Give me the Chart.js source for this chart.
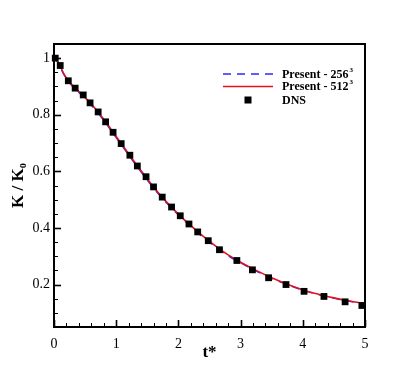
<!DOCTYPE html>
<html>
<head>
<meta charset="utf-8">
<script src="https://cdn.jsdelivr.net/npm/chart.js@4.4.1/dist/chart.umd.min.js"></script>
<style>
  html, body { margin: 0; padding: 0; background: #fff; }
</style>
</head>
<body>
<canvas id="decay" width="415" height="369"></canvas>
<script>
// DNS reference points
var dnsT = [0.02, 0.10, 0.23, 0.34, 0.47, 0.58, 0.71, 0.83, 0.95, 1.08, 1.22, 1.34, 1.48, 1.60, 1.74,
            1.89, 2.03, 2.17, 2.31, 2.48, 2.66, 2.94, 3.19, 3.45, 3.73, 4.02, 4.34, 4.68, 4.95];
var dnsK = [1.0, 0.974, 0.920, 0.894, 0.870, 0.842, 0.810, 0.775, 0.738, 0.698, 0.657, 0.619, 0.581, 0.545, 0.509,
            0.474, 0.443, 0.414, 0.386, 0.355, 0.323, 0.285, 0.252, 0.224, 0.200, 0.176, 0.158, 0.139, 0.126];

// present LES runs
var lesT = [0, 0.05, 0.1, 0.15, 0.2, 0.3, 0.4, 0.6, 0.8, 1.0, 1.2, 1.4, 1.6, 1.8, 2.0, 2.2, 2.4, 2.6, 2.8,
            3.0, 3.25, 3.5, 3.75, 4.0, 4.25, 4.5, 4.75, 5.0];
var k256 = [1.0, 0.99, 0.970, 0.946, 0.928, 0.900, 0.879, 0.834, 0.780, 0.719, 0.658, 0.598, 0.541, 0.491, 0.446,
            0.405, 0.367, 0.333, 0.302, 0.277, 0.248, 0.222, 0.200, 0.180, 0.165, 0.152, 0.141, 0.132];
var k512 = [1.0, 0.99, 0.972, 0.948, 0.930, 0.903, 0.882, 0.838, 0.784, 0.723, 0.662, 0.602, 0.545, 0.494, 0.449,
            0.408, 0.370, 0.336, 0.305, 0.279, 0.250, 0.224, 0.201, 0.181, 0.166, 0.153, 0.142, 0.133];

var xTicks = [0, 1, 2, 3, 4, 5];
var yTicks = [0.2, 0.4, 0.6, 0.8, 1];
var seriesNames = ['Present - 256', 'Present - 512', 'DNS'];
var seriesSup = ['3', '3', ''];

var serif = "'Liberation Serif', 'Times New Roman', serif";

function pts(xs, ys) {
	return xs.map(function(x, i) { return {x: x, y: ys[i]}; });
}

/* frame + inward ticks, drawn before the curves */
var frame = {
	id: 'frame',
	beforeDatasetsDraw: function(chart) {
		var c = chart.ctx, a = chart.chartArea, xs = chart.scales.x, ys = chart.scales.y;
		c.save();
		c.strokeStyle = '#000';
		var i, p, len;
		for (i = 0; i <= 25; i++) {
			p = Math.round(xs.getPixelForValue(i * 0.2)) + 0.5;
			len = i % 5 === 0 ? 7 : 4;
			c.lineWidth = i % 5 === 0 ? 1.6 : 1;
			c.beginPath(); c.moveTo(p, a.bottom); c.lineTo(p, a.bottom - len); c.stroke();
		}
		for (i = 1; i <= 20; i++) {
			p = Math.round(ys.getPixelForValue(i * 0.05)) + 0.5;
			len = i % 4 === 0 ? 7 : 4;
			c.lineWidth = i % 4 === 0 ? 1.6 : 1;
			c.beginPath(); c.moveTo(a.left, p); c.lineTo(a.left + len, p); c.stroke();
		}
		c.lineWidth = 2;
		c.strokeRect(a.left, a.top, a.right - a.left, a.bottom - a.top);
		c.restore();
	}
};

/* legend box in the upper right of the plot */
var keyBox = {
	id: 'keyBox',
	afterDatasetsDraw: function(chart) {
		var c = chart.ctx, a = chart.chartArea;
		var rows = [30, 42.5, 56];
		var x0 = a.right - 142, x1 = a.right - 92, tx = a.right - 83;
		c.save();
		chart.data.datasets.forEach(function(ds, i) {
			var y = a.top + rows[i];
			if (ds.showLine) {
				c.strokeStyle = ds.borderColor;
				c.lineWidth = ds.borderWidth;
				c.setLineDash(ds.borderDash || []);
				c.beginPath(); c.moveTo(x0, y); c.lineTo(x1, y); c.stroke();
				c.setLineDash([]);
			} else {
				c.fillStyle = ds.backgroundColor;
				c.fillRect((x0 + x1) / 2 - 3.5, y - 3.5, 7, 7);
			}
			c.fillStyle = '#000';
			c.textBaseline = 'middle';
			c.font = 'bold 12px ' + serif;
			c.fillText(seriesNames[i], tx, y + 0.5);
			if (seriesSup[i]) {
				var w = c.measureText(seriesNames[i]).width;
				c.font = 'bold 7px ' + serif;
				c.fillText(seriesSup[i], tx + w + 1, y - 4);
			}
		});
		c.restore();
	}
};

var ctx = document.getElementById('decay');
var chart = new Chart(ctx, {
	type: 'scatter',
	data: {
		datasets: [{
			label: 'Present - 256³',
			data: pts(lesT, k256),
			showLine: true,
			borderColor: '#2a2aff',
			borderWidth: 1.5,
			borderDash: [8, 6],
			pointRadius: 0,
			cubicInterpolationMode: 'monotone',
			order: 2
		}, {
			label: 'Present - 512³',
			data: pts(lesT, k512),
			showLine: true,
			borderColor: '#e0141e',
			borderWidth: 1.6,
			pointRadius: 0,
			cubicInterpolationMode: 'monotone',
			order: 1
		}, {
			label: 'DNS',
			data: pts(dnsT, dnsK),
			pointStyle: 'rect',
			pointRadius: 4.8,
			pointBorderWidth: 0,
			backgroundColor: '#000',
			clip: false,
			order: 0
		}]
	},
	options: {
		responsive: false,
		animation: false,
		events: [],
		layout: { padding: { top: 44, right: 50, left: 0, bottom: 0 } },
		plugins: { legend: { display: false }, tooltip: { enabled: false } },
		scales: {
			x: {
				type: 'linear', min: 0, max: 5,
				afterBuildTicks: function(s) { s.ticks = xTicks.map(function(v) { return {value: v}; }); },
				afterFit: function(s) { s.height = 42; },
				grid: { display: false, drawTicks: false },
				border: { display: false },
				ticks: { color: '#000', font: { family: serif, size: 14 }, padding: 9, maxRotation: 0,
					callback: function(v) { return String(v); } },
				title: { display: true, text: 't*', color: '#000', font: { family: serif, size: 17, weight: 'bold' },
					padding: { top: 0, bottom: 6 } }
			},
			y: {
				type: 'linear', min: 0.05, max: 1.05,
				afterBuildTicks: function(s) { s.ticks = yTicks.map(function(v) { return {value: v}; }); },
				afterFit: function(s) { s.width = 54; },
				grid: { display: false, drawTicks: false },
				border: { display: false },
				ticks: { color: '#000', font: { family: serif, size: 14 }, padding: 4,
					callback: function(v) { return String(v); } },
				title: { display: true, text: 'K / K₀', color: '#000', font: { family: serif, size: 17, weight: 'bold' },
					padding: { top: 8, bottom: 0 } }
			}
		}
	},
	plugins: [frame, keyBox]
});
</script>
</body>
</html>
